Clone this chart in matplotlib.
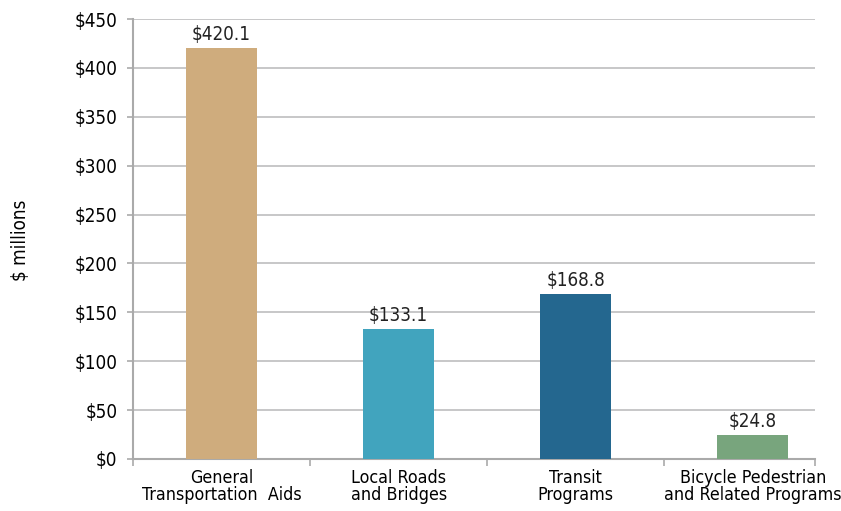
import numpy as np
import matplotlib.pyplot as plt

categories = ["General\nTransportation  Aids", "Local Roads\nand Bridges",
              "Transit\nPrograms", "Bicycle Pedestrian\nand Related Programs"]
values = [420.1, 133.1, 168.8, 24.8]
colors = ["#CFAC7D", "#41A4BE", "#24678F", "#78A57D"]
yticks = np.arange(0, 451, 50)

plt.rcParams['font.family'] = ['DejaVu Sans']
plt.rcParams['font.stretch'] = 'condensed'
plt.rcParams['font.size'] = 13.5

fig = plt.figure(figsize=(8.41, 5.11), dpi=100)
ax = fig.add_axes([0.158, 0.1018, 0.811, 0.861])

x = np.arange(len(values))
ax.bar(x, values, width=0.4, color=colors, zorder=3)
for xi, v in zip(x, values):
    ax.text(xi, v + 4, f"${v:.1f}", ha='center', va='bottom', color='#222222')

ax.set_yticks(yticks)
ax.set_yticklabels([f"${t}" for t in yticks])
ax.yaxis.grid(True, color='#BDBDBF', linewidth=1.2, zorder=0)

ax.set_xticks(x)
ax.set_xticklabels(categories, linespacing=0.95, fontsize=12.8)
ax.set_xticks([-0.5, 0.5, 1.5, 2.5, 3.35], minor=True)
ax.tick_params(axis='x', which='major', length=0, pad=7)
ax.tick_params(axis='x', which='minor', length=5, color='#AAAAAA', width=1.2)
ax.tick_params(axis='y', length=4, color='#AAAAAA', width=1.2, pad=7)
ax.set_ylim(0, 450)
ax.set_xlim(-0.5, 3.35)

for s in ['top', 'right']:
    ax.spines[s].set_visible(False)
for s in ['left', 'bottom']:
    ax.spines[s].set_color('#AAAAAA')
    ax.spines[s].set_linewidth(1.5)

fig.text(0.024, 0.53, "$ millions", rotation=90, ha='center', va='center')

fig.savefig("out.png", dpi=100)
